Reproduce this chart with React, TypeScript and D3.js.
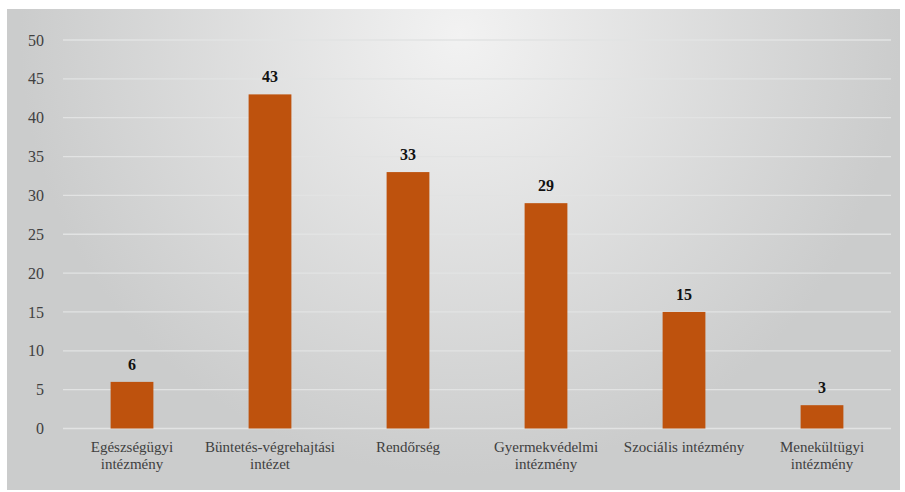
import React from "react";
import * as d3 from "d3";

const categories = [
  ["Egészségügyi", "intézmény"],
  ["Büntetés-végrehajtási", "intézet"],
  ["Rendőrség"],
  ["Gyermekvédelmi", "intézmény"],
  ["Szociális intézmény"],
  ["Menekültügyi", "intézmény"],
];
const values = [6, 43, 33, 29, 15, 3];
const yTicks = [0, 5, 10, 15, 20, 25, 30, 35, 40, 45, 50];

const W = 905;
const H = 492;
const left = 63;
const right = 891;
const top = 40;
const bottom = 428.5;
const fontStyle = { fontFamily: '"Liberation Serif", "Times New Roman", Times, serif' };

export default function App() {
  const x = d3.scaleBand<number>().domain(values.map((_, i) => i)).range([left, right]).paddingInner(0.69).paddingOuter(0.345);
  const y = d3.scaleLinear().domain([0, 50]).range([bottom, top]);
  return (
    <svg width={W} height={H} style={{ position: "absolute", left: 0, top: 0 }}>
      <defs>
        <radialGradient id="bg" gradientUnits="userSpaceOnUse" cx={460} cy={35} r={440}>
          <stop offset="0%" stopColor="#f2f2f2" />
          <stop offset="100%" stopColor="#cbcccc" />
        </radialGradient>
      </defs>
      <rect x={7} y={9} width={893} height={481} fill="url(#bg)" />
      {yTicks.map((t) => (
        <g key={t}>
          <line x1={left} x2={right} y1={y(t)} y2={y(t)} stroke="#e2e3e3" strokeWidth={1.3} />
          <text x={44} y={y(t)} dy="0.35em" textAnchor="end" style={fontStyle} fontSize={16} fill="#404040">
            {t}
          </text>
        </g>
      ))}
      {values.map((v, i) => (
        <g key={i}>
          <rect x={x(i)} y={y(v)} width={x.bandwidth()} height={y(0) - y(v)} fill="#be520d" />
          <text x={x(i)! + x.bandwidth() / 2} y={y(v) - 12} textAnchor="middle" style={fontStyle} fontSize={16} fontWeight="bold" fill="#111">
            {v}
          </text>
          <text x={x(i)! + x.bandwidth() / 2} y={452} textAnchor="middle" style={fontStyle} fontSize={15} fill="#404040">
            {categories[i].map((l, j) => (
              <tspan key={j} x={x(i)! + x.bandwidth() / 2} dy={j === 0 ? 0 : 17}>
                {l}
              </tspan>
            ))}
          </text>
        </g>
      ))}
    </svg>
  );
}
